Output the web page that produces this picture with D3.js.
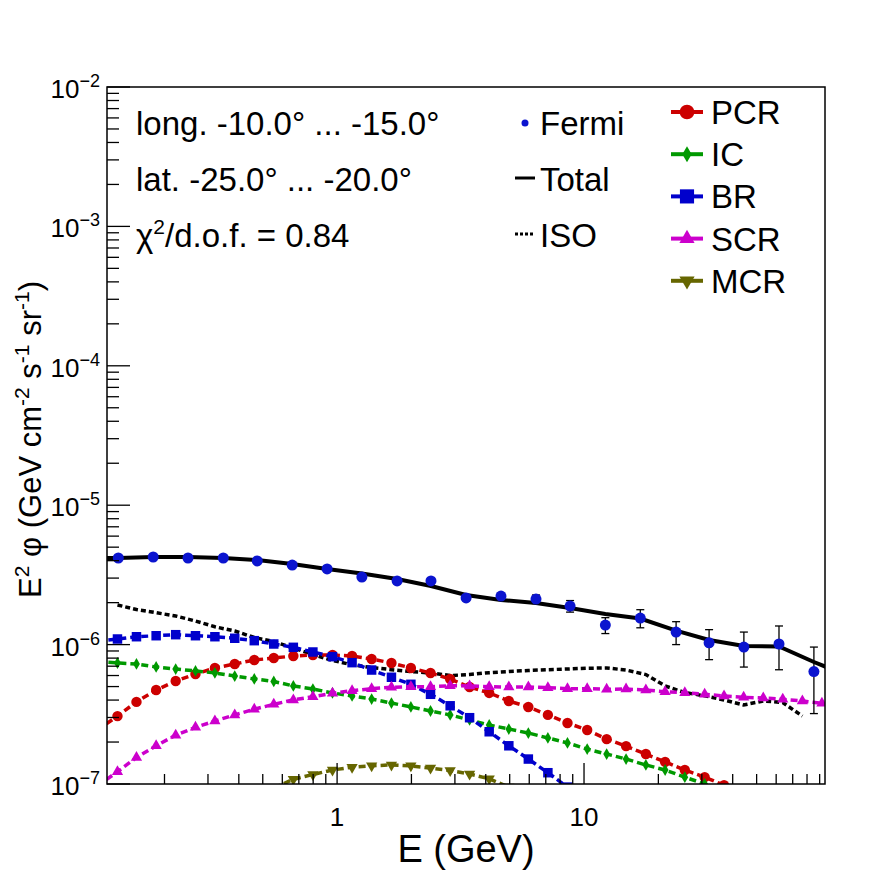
<!DOCTYPE html>
<html>
<head>
<meta charset="utf-8">
<script src="https://cdn.jsdelivr.net/npm/d3@7"></script>
<style>
  body { margin: 0; background: #fff; }
  text { font-family: "Liberation Sans", Arial, Helvetica, sans-serif; fill: #000; }
</style>
</head>
<body>
<script>
// Fermi data points (GeV, 1e-6 GeV cm^-2 s^-1 sr^-1)
const fermiE = [0.130, 0.180, 0.249, 0.346, 0.475, 0.658, 0.911, 1.26, 1.75, 2.40, 3.33,
  4.61, 6.39, 8.78, 12.2, 16.9, 23.6, 32.1, 44.4, 61.6, 85.3]
const fermiV = [4.18, 4.25, 4.18, 4.18, 3.98, 3.72, 3.49, 3.05, 2.86, 2.86, 2.16,
  2.23, 2.12, 1.89, 1.38, 1.55, 1.23, 1.03, 0.96, 1.01, 0.64]
const fermiErr = [0.06, 0.06, 0.06, 0.06, 0.06, 0.06, 0.06, 0.06, 0.07, 0.08, 0.08,
  0.10, 0.15, 0.18, 0.18, 0.23, 0.23, 0.25, 0.27, 0.35, 0.32]

// total model
const totalE = [0.0937, 0.130, 0.180, 0.249, 0.346, 0.475, 0.658, 0.911, 1.26, 1.75, 2.40, 3.33,
  4.61, 6.39, 8.78, 12.2, 16.9, 23.6, 32.1, 44.4, 61.6, 85.3, 118]
const totalV = [4.18, 4.18, 4.25, 4.25, 4.18, 4.045, 3.787, 3.486, 3.236, 2.955, 2.633, 2.269,
  2.089, 1.988, 1.830, 1.658, 1.539, 1.258, 1.079, 0.977, 0.969, 0.750, 0.595]

// model energy grid for the components
const modelE = [0.107, 0.129, 0.154, 0.185, 0.222, 0.267, 0.320, 0.385, 0.462, 0.554, 0.665,
  0.798, 0.958, 1.15, 1.38, 1.66, 1.99, 2.39, 2.87, 3.44, 4.13, 4.96, 5.95, 7.14, 8.57,
  10.3, 12.35, 14.8, 17.8, 21.3, 25.6, 30.8, 36.9, 44.3, 53.2, 63.8, 76.6, 91.9]

const pcr = [0.244, 0.307, 0.388, 0.472, 0.548, 0.615, 0.680, 0.726, 0.775, 0.801, 0.828,
  0.842, 0.842, 0.828, 0.788, 0.738, 0.680, 0.626, 0.567, 0.496, 0.450, 0.394, 0.357, 0.313,
  0.274, 0.244, 0.210, 0.187, 0.164, 0.144, 0.126, 0.112, 0.098, null, null, null, null, null]
const ic = [0.755, 0.738, 0.726, 0.691, 0.668, 0.647, 0.626, 0.595, 0.567, 0.544, 0.505,
  0.480, 0.450, 0.428, 0.407, 0.381, 0.357, 0.334, 0.313, 0.288, 0.265, 0.248, 0.232, 0.214,
  0.197, 0.178, 0.164, 0.151, 0.137, 0.126, 0.112, 0.100, 0.088, null, null, null, null, null]
const br = [1.061, 1.097, 1.139, 1.158, 1.178, 1.158, 1.139, 1.110, 1.067, 1.010, 0.956,
  0.885, 0.819, 0.742, 0.657, 0.583, 0.519, 0.440, 0.364, 0.299, 0.237, 0.188, 0.151, 0.1205,
  0.095, null, null, null, null, null, null, null, null, null, null, null, null, null]
const scr = [0.097, 0.1225, 0.155, 0.188, 0.224, 0.255, 0.283, 0.313, 0.344, 0.373, 0.401,
  0.423, 0.447, 0.467, 0.483, 0.494, 0.499, 0.499, 0.507, 0.505, 0.499, 0.496, 0.496, 0.491,
  0.483, 0.483, 0.478, 0.480, 0.472, 0.459, 0.452, 0.440, 0.428, 0.419, 0.414, 0.405, 0.394, 0.379]
const mcr = [null, null, null, null, null, null, null, null, null, 0.0936, 0.108,
  0.117, 0.126, 0.132, 0.135, 0.137, 0.135, 0.130, 0.125, 0.118, 0.109, 0.095, null, null,
  null, null, null, null, null, null, null, null, null, null, null, null, null, null]
const iso = [null, 1.923, 1.786, 1.694, 1.604, 1.477, 1.342, 1.252, 1.124, 1.052, 0.945,
  0.849, 0.769, 0.716, 0.685, 0.661, 0.641, 0.626, 0.600, 0.610, 0.629, 0.641, 0.652, 0.661,
  0.668, 0.677, 0.680, 0.657, 0.610, 0.505, 0.453, 0.429, 0.401, 0.369, 0.394, 0.384, 0.307, null]

const infoLines = ['long. -10.0° ... -15.0°', 'lat. -25.0° ... -20.0°']
const chiValue = '0.84'

const components = [
  { name: 'PCR', values: pcr, color: '#cc0000', symbol: d3.symbolCircle, size: 85, lsize: 170 },
  { name: 'IC', values: ic, color: '#009900', symbol: d3.symbolDiamond, size: 40, lsize: 75 },
  { name: 'BR', values: br, color: '#0000cc', symbol: d3.symbolSquare, size: 90, lsize: 200 },
  { name: 'SCR', values: scr, color: '#cc00cc', symbol: d3.symbolTriangle, size: 55, lsize: 100 },
  { name: 'MCR', values: mcr, color: '#666600', symbol: d3.symbolTriangle, size: 55, lsize: 100, flip: true }
]

const W = 896, H = 872
const frame = { left: 107, right: 825, top: 87, bottom: 784 }
const unit = 1e-6
const textSize = 33

const svg = d3.select('body').append('svg')
  .attr('width', W).attr('height', H)

svg.append('rect').attr('width', W).attr('height', H).attr('fill', '#fff')

const x = d3.scaleLog().domain([0.117, 94.6]).range([frame.left, frame.right])
const y = d3.scaleLog().domain([1e-7, 1e-2]).range([frame.bottom, frame.top])

svg.append('clipPath').attr('id', 'clip')
  .append('rect')
  .attr('x', frame.left).attr('y', frame.top)
  .attr('width', frame.right - frame.left).attr('height', frame.bottom - frame.top)

const plot = svg.append('g').attr('clip-path', 'url(#clip)')

const line = d3.line()
  .defined(d => d[1] != null)
  .x(d => x(d[0]))
  .y(d => y(d[1] * unit))

// ISO
plot.append('path')
  .datum(modelE.map((e, i) => [e, iso[i]]))
  .attr('d', line)
  .attr('fill', 'none')
  .attr('stroke', '#000')
  .attr('stroke-width', 3.5)
  .attr('stroke-dasharray', '5,3')

// components
components.forEach(c => {
  const pts = modelE.map((e, i) => [e, c.values[i]])
  plot.append('path')
    .datum(pts)
    .attr('d', line)
    .attr('fill', 'none')
    .attr('stroke', c.color)
    .attr('stroke-width', 3.5)
    .attr('stroke-dasharray', '7,4')
  plot.selectAll(null)
    .data(pts.filter(d => d[1] != null))
    .join('path')
    .attr('d', d3.symbol(c.symbol, c.size))
    .attr('transform', d => `translate(${x(d[0])},${y(d[1] * unit)})${c.flip ? ' rotate(180)' : ''}`)
    .attr('fill', c.color)
})

// total
plot.append('path')
  .datum(totalE.map((e, i) => [e, totalV[i]]))
  .attr('d', line)
  .attr('fill', 'none')
  .attr('stroke', '#000')
  .attr('stroke-width', 4)

// Fermi points with error bars
const fermi = fermiE.map((e, i) => ({ e, v: fermiV[i], err: fermiErr[i] }))
const eb = plot.selectAll('.eb').data(fermi).join('g').attr('class', 'eb')
eb.append('line')
  .attr('x1', d => x(d.e)).attr('x2', d => x(d.e))
  .attr('y1', d => y((d.v + d.err) * unit)).attr('y2', d => y((d.v - d.err) * unit))
  .attr('stroke', '#000').attr('stroke-width', 1.3)
eb.append('line')
  .attr('x1', d => x(d.e) - 4).attr('x2', d => x(d.e) + 4)
  .attr('y1', d => y((d.v + d.err) * unit)).attr('y2', d => y((d.v + d.err) * unit))
  .attr('stroke', '#000').attr('stroke-width', 1.3)
eb.append('line')
  .attr('x1', d => x(d.e) - 4).attr('x2', d => x(d.e) + 4)
  .attr('y1', d => y((d.v - d.err) * unit)).attr('y2', d => y((d.v - d.err) * unit))
  .attr('stroke', '#000').attr('stroke-width', 1.3)
eb.append('circle')
  .attr('cx', d => x(d.e)).attr('cy', d => y(d.v * unit))
  .attr('r', 5.5)
  .attr('fill', '#0b14cf')

// frame
svg.append('rect')
  .attr('x', frame.left).attr('y', frame.top)
  .attr('width', frame.right - frame.left).attr('height', frame.bottom - frame.top)
  .attr('fill', 'none').attr('stroke', '#000').attr('stroke-width', 1.5)

// ticks (inside the frame)
const isMajor = v => Math.abs(Math.log10(v) - Math.round(Math.log10(v))) < 1e-6
svg.append('g').selectAll('line')
  .data(x.ticks())
  .join('line')
  .attr('x1', d => x(d)).attr('x2', d => x(d))
  .attr('y1', frame.bottom).attr('y2', d => frame.bottom - (isMajor(d) ? 21 : 10))
  .attr('stroke', '#000').attr('stroke-width', 1.3)
svg.append('g').selectAll('line')
  .data(y.ticks())
  .join('line')
  .attr('y1', d => y(d)).attr('y2', d => y(d))
  .attr('x1', frame.left).attr('x2', d => frame.left + (isMajor(d) ? 23 : 12))
  .attr('stroke', '#000').attr('stroke-width', 1.3)

// tick labels
svg.append('g').selectAll('text')
  .data(x.ticks().filter(isMajor))
  .join('text')
  .attr('x', d => x(d)).attr('y', 826)
  .attr('text-anchor', 'middle')
  .attr('font-size', 26)
  .text(d => d3.format('~g')(d))

const yl = svg.append('g').selectAll('text')
  .data(y.ticks().filter(isMajor))
  .join('text')
  .attr('x', 100).attr('y', d => y(d) + 11)
  .attr('text-anchor', 'end')
  .attr('font-size', 26)
yl.append('tspan').text('10')
yl.append('tspan').attr('font-size', 18).attr('dy', -11)
  .text(d => '\u2212' + Math.round(-Math.log10(d)))

// axis titles
svg.append('text')
  .attr('x', (frame.left + frame.right) / 2).attr('y', 862)
  .attr('text-anchor', 'middle')
  .attr('font-size', 38)
  .text('E (GeV)')

const yt = svg.append('text')
  .attr('transform', `translate(41,${(frame.top + frame.bottom) / 2 + 4}) rotate(-90)`)
  .attr('text-anchor', 'middle')
  .attr('font-size', 31)
const ytParts = [['E', 0], ['2', 1], [' \u03c6 (GeV cm', 0], ['-2', 1], [' s', 0], ['-1', 1], [' sr', 0], ['-1', 1], [')', 0]]
let prevSup = 0
ytParts.forEach(([t, sup]) => {
  yt.append('tspan')
    .attr('font-size', sup ? 21 : 31)
    .attr('dy', sup === prevSup ? 0 : (sup ? -12 : 12))
    .text(t)
  prevSup = sup
})

// info text
const info = svg.append('g')
infoLines.forEach((t, i) => {
  info.append('text')
    .attr('x', 136).attr('y', 135 + i * 56)
    .attr('font-size', textSize)
    .text(t)
})
const chi = info.append('text').attr('x', 136).attr('y', 247).attr('font-size', textSize)
chi.append('tspan').text('\u03c7')
chi.append('tspan').attr('font-size', 21).attr('dy', -13).text('2')
chi.append('tspan').attr('dy', 13).text('/d.o.f. = ' + chiValue)

// legend, left column
const leg = svg.append('g')
leg.append('circle').attr('cx', 525).attr('cy', 123).attr('r', 3.5).attr('fill', '#0b14cf')
leg.append('text').attr('x', 540).attr('y', 135).attr('font-size', textSize).text('Fermi')
leg.append('line').attr('x1', 515).attr('x2', 535).attr('y1', 178).attr('y2', 178)
  .attr('stroke', '#000').attr('stroke-width', 3)
leg.append('text').attr('x', 540).attr('y', 191).attr('font-size', textSize).text('Total')
leg.append('line').attr('x1', 515).attr('x2', 535).attr('y1', 234).attr('y2', 234)
  .attr('stroke', '#000').attr('stroke-width', 3).attr('stroke-dasharray', '3,2')
leg.append('text').attr('x', 540).attr('y', 247).attr('font-size', textSize).text('ISO')

// legend, right column
components.forEach((c, i) => {
  const cy = 112 + i * 42.2
  leg.append('line').attr('x1', 671).attr('x2', 703).attr('y1', cy).attr('y2', cy)
    .attr('stroke', c.color).attr('stroke-width', 4)
  leg.append('path')
    .attr('d', d3.symbol(c.symbol, c.lsize))
    .attr('transform', `translate(687,${cy})${c.flip ? ' rotate(180)' : ''}`)
    .attr('fill', c.color)
  leg.append('text').attr('x', 711).attr('y', cy + 12).attr('font-size', textSize).text(c.name)
})
</script>
</body>
</html>
